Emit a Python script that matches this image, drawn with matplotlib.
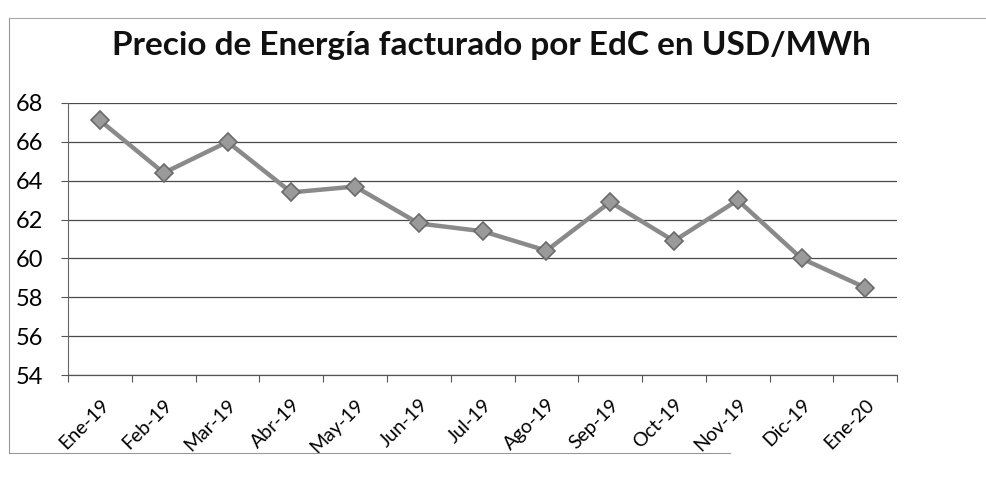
import matplotlib
matplotlib.use('Agg')
import matplotlib.pyplot as plt
from matplotlib.lines import Line2D

months = ['Ene-19', 'Feb-19', 'Mar-19', 'Abr-19', 'May-19', 'Jun-19', 'Jul-19',
          'Ago-19', 'Sep-19', 'Oct-19', 'Nov-19', 'Dic-19', 'Ene-20']
precio = [67.1, 64.4, 66.0, 63.4, 63.7, 61.8, 61.4, 60.4, 62.9, 60.9, 63.0, 60.0, 58.5]
y_ticks = [54, 56, 58, 60, 62, 64, 66, 68]

plt.rcParams['font.family'] = ['Lato', 'DejaVu Sans']

fig = plt.figure(figsize=(9.87, 4.79), dpi=100)
ax = fig.add_axes([0.069, 0.217, 0.840, 0.568])

x = list(range(len(months)))
ax.plot(x, precio, color='#8a8a8a', linewidth=3.2, marker='D', markersize=9,
        markerfacecolor='#9a9a9a', markeredgecolor='#6a6a6a', markeredgewidth=1.2,
        zorder=3)

ax.set_xlim(-0.5, len(months) - 0.5)
ax.set_ylim(54, 68)
ax.set_yticks(y_ticks)
ax.set_yticklabels([str(v) for v in y_ticks], fontsize=17)
ax.set_xticks(x)
ax.set_xticklabels(months, rotation=45, ha='right', rotation_mode='anchor', fontsize=14)
ax.tick_params(axis='x', length=0, pad=15)
ax.set_xticks([i - 0.5 for i in range(len(months) + 1)], minor=True)
ax.tick_params(axis='x', which='minor', length=5, width=0.8, color='#555555', direction='out')
ax.tick_params(axis='y', length=5, width=0.8, color='#555555', pad=13)

ax.grid(axis='y', color='#4a4a4a', linewidth=0.9)
ax.set_axisbelow(True)
for side in ['top', 'right']:
    ax.spines[side].set_visible(False)
ax.spines['left'].set_color('#666666')
ax.spines['bottom'].set_color('#555555')
ax.spines['left'].set_linewidth(0.8)
ax.spines['bottom'].set_linewidth(0.9)

fig.text(0.498, 0.905, 'Precio de Energía facturado por EdC en USD/MWh',
         ha='center', va='center', fontsize=24, fontweight='bold', color='#111111')

# chart frame (scan of an Excel chart box)
fig.add_artist(Line2D([0.009, 0.009], [0.054, 0.962], color='#999999', linewidth=0.8))
fig.add_artist(Line2D([0.009, 1.0], [0.962, 0.962], color='#aaaaaa', linewidth=0.8))
fig.add_artist(Line2D([0.009, 0.74], [0.054, 0.054], color='#999999', linewidth=0.8))

fig.savefig('out.png', dpi=100)
